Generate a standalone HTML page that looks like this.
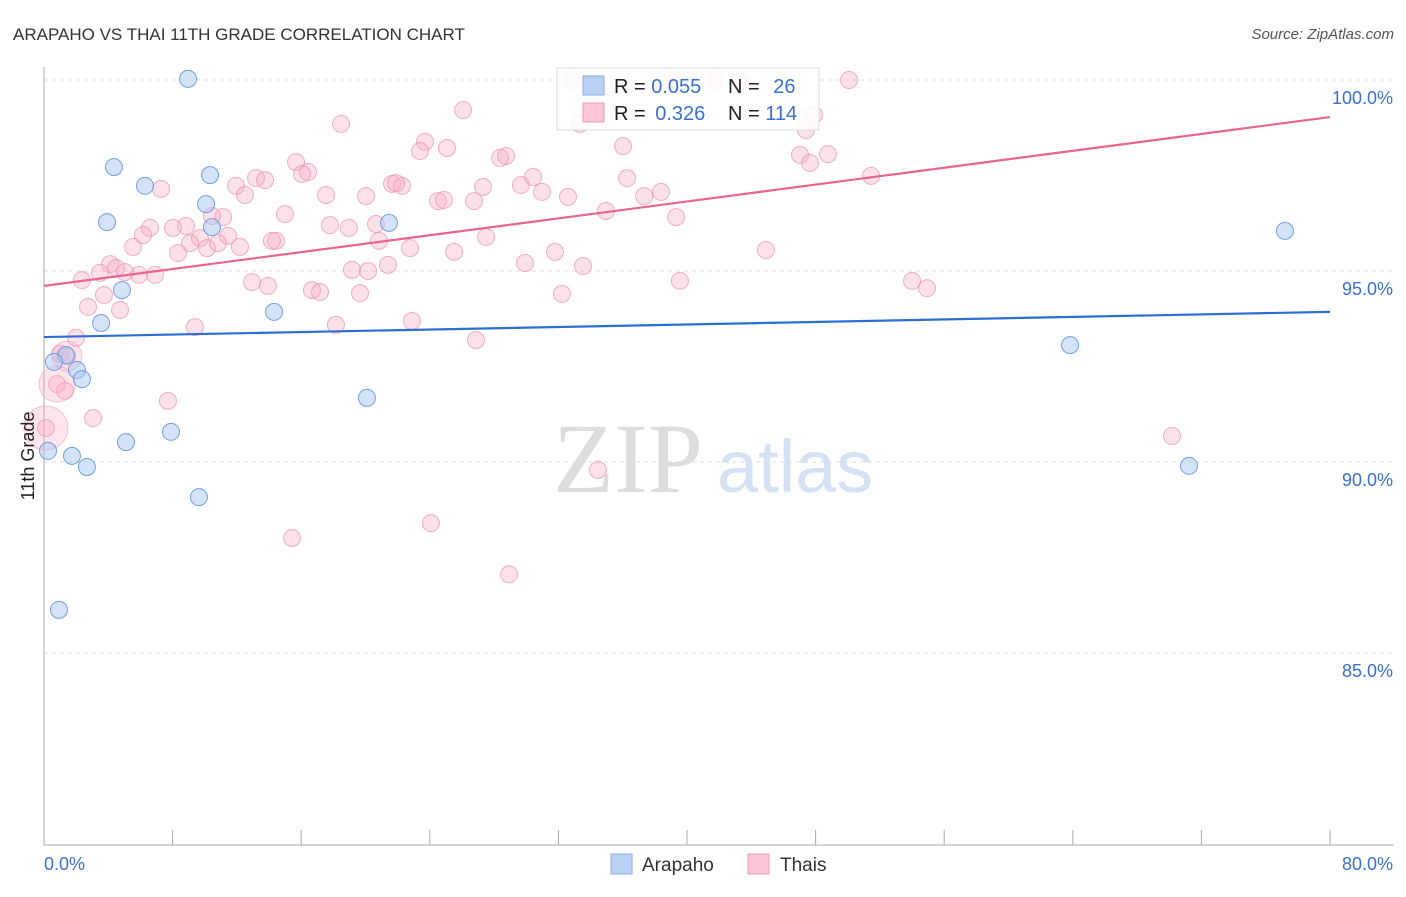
<!DOCTYPE html>
<html><head><meta charset="utf-8"><style>
body{margin:0;background:#fff;font-family:"Liberation Sans",sans-serif}
</style></head><body>
<svg id="c" width="1406" height="892" xmlns="http://www.w3.org/2000/svg" style="font-family:'Liberation Sans',sans-serif">
<text x="13" y="40" font-size="17" fill="#333">ARAPAHO VS THAI 11TH GRADE CORRELATION CHART</text>
<text x="1394" y="39" font-size="15" fill="#555" font-style="italic" text-anchor="end">Source: ZipAtlas.com</text>
<g>
<text x="553" y="492" font-size="100" fill="#ddd" font-family="Liberation Serif,serif">ZIP</text>
<text x="717" y="492" font-size="74" fill="#d5e2f5">atlas</text>
</g>
<g id="grid"></g>
<g id="axes"></g>
<g id="pts"></g>
<g id="lines"></g>
<g>
<rect x="557" y="68" width="262" height="62" fill="#fff" fill-opacity="0.85" stroke="#ddd"/>
<rect x="583" y="76" width="21" height="19" fill="#b8d1f5" stroke="#88aee8"/>
<rect x="583" y="103" width="21" height="19" fill="#fbc6d6" stroke="#f19ab5"/>
<text x="614" y="93" font-size="20" fill="#222">R = <tspan fill="#3a70d0">0.055</tspan></text>
<text x="728" y="93" font-size="20" fill="#222">N = <tspan fill="#3a70d0" dx="8">26</tspan></text>
<text x="614" y="120" font-size="20" fill="#222">R = <tspan fill="#3a70d0" dx="4">0.326</tspan></text>
<text x="728" y="120" font-size="20" fill="#222">N = <tspan fill="#3a70d0">114</tspan></text>
</g>
<g>
<rect x="611" y="854" width="21" height="20" fill="#b8d1f5" stroke="#88aee8"/>
<text x="642" y="871" font-size="19" fill="#333">Arapaho</text>
<rect x="748" y="854" width="21" height="20" fill="#fbc6d6" stroke="#f19ab5"/>
<text x="780" y="871" font-size="19" fill="#333">Thais</text>
</g>
<text transform="translate(34,456) rotate(-90)" font-size="18" fill="#222" text-anchor="middle">11th Grade</text>
</svg>
<script>
const yTicks=[100,95,90,85];
const yTickLabels=["100.0%","95.0%","90.0%","85.0%"];
const xTickLabels=["0.0%","80.0%"];
const arapahoX=[8.96,4.35,6.28,10.33,3.92,10.08,10.45,21.46,4.85,14.31,3.55,1.37,0.62,2.05,2.36,20.09,7.90,5.10,0.25,1.74,2.67,9.64,0.93,63.83,77.20,71.23];
const arapahoY=[100.03,97.72,97.23,97.51,96.28,96.75,96.15,96.26,94.50,93.93,93.64,92.80,92.62,92.41,92.17,91.68,90.79,90.52,90.29,90.16,89.87,89.08,86.13,93.06,96.05,89.90];
const thaiX=[50.08,32.85,38.88,41.68,43.30,26.07,18.48,47.90,47.40,33.34,23.70,25.07,23.39,36.02,28.74,28.37,48.77,47.03,47.65,15.68,16.42,16.05,7.28,11.94,13.19,13.75,21.65,22.27,21.90,27.31,29.67,30.42,36.27,51.45,17.54,20.03,12.50,30.98,32.60,37.33,38.38,24.51,24.88,26.75,11.14,10.45,14.99,20.65,17.79,18.97,6.59,6.16,8.83,8.02,9.70,11.45,9.08,10.14,10.82,12.19,14.43,14.18,5.54,8.34,22.77,20.84,27.50,31.79,39.32,34.96,44.91,25.51,4.11,4.48,3.48,5.91,6.91,5.04,2.36,12.94,13.93,16.67,17.17,19.16,20.16,21.40,29.92,33.53,39.56,54.00,54.93,19.66,32.22,3.73,2.74,4.73,9.39,18.16,22.89,1.99,1.00,26.87,1.43,0.81,1.31,7.71,3.05,0.12,70.17,34.46,24.07,15.43,28.93];
const thaiY=[100.0,100.0,100.0,100.0,99.95,99.21,98.85,99.08,98.69,98.85,98.38,98.22,98.14,98.27,98.01,97.96,98.06,98.04,97.83,97.85,97.59,97.54,97.15,97.23,97.43,97.38,97.28,97.23,97.30,97.20,97.25,97.46,97.43,97.49,96.99,96.96,96.99,97.07,96.94,96.96,97.07,96.83,96.86,96.83,96.41,96.44,96.49,96.23,96.20,96.13,96.13,95.94,96.18,96.13,95.86,95.92,95.73,95.60,95.73,95.63,95.79,95.79,95.63,95.47,95.60,95.79,95.89,95.50,96.41,96.57,95.55,95.50,95.18,95.08,94.95,94.90,94.90,94.97,94.76,94.71,94.61,94.50,94.45,95.03,95.00,95.16,95.21,95.13,94.74,94.74,94.55,94.42,94.40,94.37,94.06,93.98,93.53,93.59,93.69,93.25,92.83,93.19,92.77,92.04,91.86,91.60,91.15,90.89,90.68,89.79,88.40,88.01,87.06];
const thaiBig=[[1.43,92.77,15],[0.81,92.04,18],[0.12,90.89,22]];
const arapahoTrend=[[0,93.27],[80,93.93]];
const thaiTrend=[[0,94.61],[80,99.03]];
const X0=44,X1=1330,Y100=80,PPY=38.2;
const sx=v=>X0+(X1-X0)*v/80;
const sy=v=>Y100+(100-v)*PPY;
const NS="http://www.w3.org/2000/svg";
function mk(t,a,p){const e=document.createElementNS(NS,t);for(const k in a)e.setAttribute(k,a[k]);p.appendChild(e);return e;}
const grid=document.getElementById('grid'),axes=document.getElementById('axes'),pts=document.getElementById('pts'),lines=document.getElementById('lines');
yTicks.forEach((t,i)=>{
 const l=mk('line',{x1:X0,x2:1394,y1:sy(t),y2:sy(t),stroke:'#ddd','stroke-dasharray':'4,4'},grid);
 
 
 const tx=mk('text',{x:1393,y:sy(t)+24,'font-size':18,fill:'#3a70d0','text-anchor':'end'},axes);
 tx.textContent=yTickLabels[i];
 
 
});
const ya=mk('line',{x1:X0,x2:X0,y1:67,y2:845,stroke:'#aaa'},axes);


const xa=mk('line',{x1:X0,x2:1394,y1:845,y2:845,stroke:'#aaa'},axes);


for(let i=0;i<=10;i++){
 const v=i*8;
 const tk=mk('line',{x1:sx(v),x2:sx(v),y1:830,y2:845,stroke:'#aaa'},axes);
 
 
}
[[0,'start',44],[80,'end',1393]].forEach((d,i)=>{
 const tx=mk('text',{x:d[2],y:870,'font-size':18,fill:'#3a70d0','text-anchor':d[1]},axes);
 tx.textContent=xTickLabels[i];
 
 
});
thaiX.forEach((x,i)=>{
 const c=mk('circle',{cx:sx(x),cy:sy(thaiY[i]),r:8.5,fill:'#f7a8c0','fill-opacity':0.35,stroke:'#ec8fae','stroke-opacity':0.7},pts);
 
 
});
thaiBig.forEach(d=>{
 const c=mk('circle',{cx:sx(d[0]),cy:sy(d[1]),r:d[2],fill:'#f7a8c0','fill-opacity':0.3,stroke:'#ec8fae','stroke-opacity':0.5},pts);
 
 
});
arapahoX.forEach((x,i)=>{
 const c=mk('circle',{cx:sx(x),cy:sy(arapahoY[i]),r:8.5,fill:'#a9c8f2','fill-opacity':0.5,stroke:'#5d92e0','stroke-opacity':0.85},pts);
 
 
});
const tl1=mk('line',{x1:sx(thaiTrend[0][0]),y1:sy(thaiTrend[0][1]),x2:sx(thaiTrend[1][0]),y2:sy(thaiTrend[1][1]),stroke:'#e8668e','stroke-width':2.2},lines);


const tl2=mk('line',{x1:sx(arapahoTrend[0][0]),y1:sy(arapahoTrend[0][1]),x2:sx(arapahoTrend[1][0]),y2:sy(arapahoTrend[1][1]),stroke:'#2b6fd6','stroke-width':2.2},lines);


</script>
</body></html>
